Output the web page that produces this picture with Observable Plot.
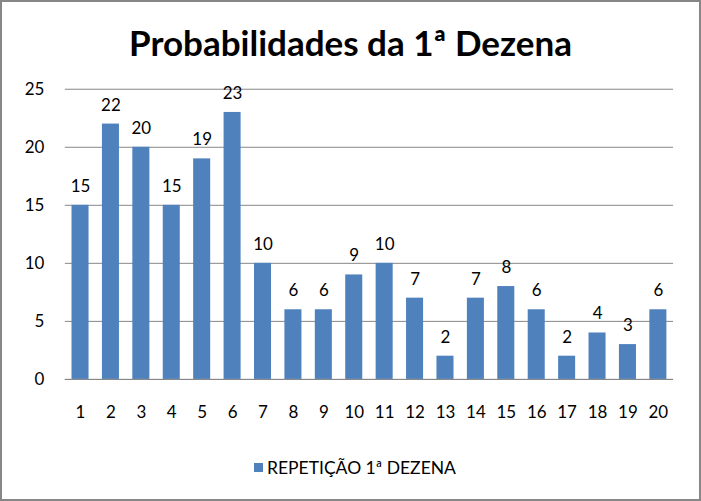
<!DOCTYPE html>
<html><head><meta charset="utf-8">
<script src="https://cdn.jsdelivr.net/npm/d3@7"></script>
<script src="https://cdn.jsdelivr.net/npm/@observablehq/plot@0.6"></script>
<style>
body{margin:0;background:#fff;}
#wrap{position:relative;width:697px;height:497px;border:2px solid #878787;overflow:hidden;background:#fff;}
#title{position:absolute;left:-2px;width:701px;top:19px;text-align:center;font-family:Lato,sans-serif;font-weight:bold;font-size:35px;color:#000;}
#legend{position:absolute;left:252px;top:455px;font-family:Lato,sans-serif;font-size:17.5px;color:#000;display:flex;align-items:center;}
#legend span.sw{display:inline-block;width:9px;height:9px;background:#4F81BD;margin-right:4px;}
#chart{position:absolute;left:-2px;top:-2px;}
</style></head>
<body>
<div id="wrap">
<div id="title">Probabilidades da 1ª Dezena</div>
<div id="chart"></div>
<div id="legend"><span class="sw"></span><span>REPETIÇÃO 1ª DEZENA</span></div>
</div>
<script>
const categories = ["1","2","3","4","5","6","7","8","9","10","11","12","13","14","15","16","17","18","19","20"];
const values = [15,22,20,15,19,23,10,6,6,9,10,7,2,7,8,6,2,4,3,6];
const yTicks = [0,5,10,15,20,25];
const seriesName = "REPETIÇÃO 1ª DEZENA";

const data = categories.map((c,i)=>({cat:c, value:values[i]}));

const plot = Plot.plot({
  width: 701, height: 501,
  marginTop: 89, marginBottom: 121, marginLeft: 65, marginRight: 26,
  style: {fontFamily: "Lato, sans-serif", fontSize: "17px", color: "#000", background: "transparent"},
  x: {domain: categories, paddingInner: 0.44, paddingOuter: 0.22, round: false, label: null},
  y: {domain: [0,25], ticks: yTicks, label: null},
  marks: [
    Plot.gridY(yTicks, {stroke: "#878787", strokeOpacity: 1}),
    Plot.barY(data, {x: "cat", y: "value", fill: "#4F81BD"}),
    Plot.ruleY([0], {stroke: "#878787"}),
    Plot.text(data, {x: "cat", y: "value", text: d => String(d.value), dy: -19, fontSize: 17, fill: "#000"}),
    Plot.axisX({tickSize: 0, tickPadding: 27, fontSize: 17}),
    Plot.axisY({ticks: yTicks, tickSize: 0, tickPadding: 21, fontSize: 17})
  ]
});
document.getElementById("chart").appendChild(plot);
</script>
</body></html>
